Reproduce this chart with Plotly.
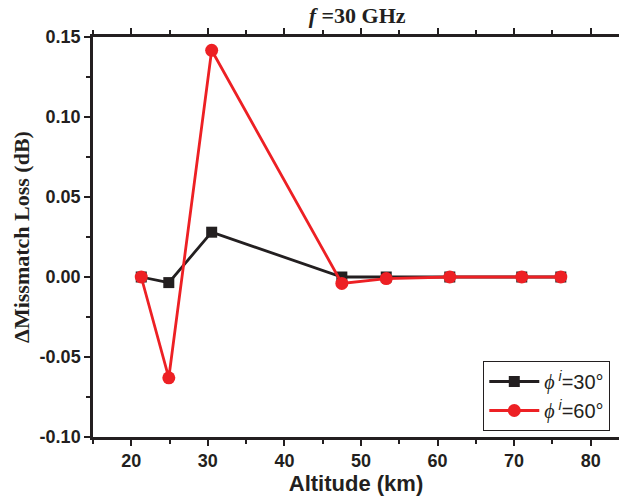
import plotly.graph_objects as go

altitude = [21.3, 24.9, 30.5, 47.5, 53.3, 61.6, 71.0, 76.1]
phi30 = [0.0, -0.0035, 0.028, 0.0, 0.0, 0.0, 0.0, 0.0]
phi60 = [0.0, -0.063, 0.1417, -0.004, -0.001, 0.0, 0.0, 0.0]
phi_sym = "<span style='font-family:Liberation Serif'><i>ϕ</i></span><sup><i> i</i></sup>"
series_names = [phi_sym + "=30°", phi_sym + "=60°"]

fig = go.Figure()
fig.add_trace(go.Scatter(x=altitude, y=phi30, mode="lines+markers", name=series_names[0],
                         line=dict(color="#231f20", width=2.8),
                         marker=dict(symbol="square", size=11, color="#231f20")))
fig.add_trace(go.Scatter(x=altitude, y=phi60, mode="lines+markers", name=series_names[1],
                         line=dict(color="#ed2024", width=2.8),
                         marker=dict(symbol="circle", size=13, color="#ed2024")))

tickfont = dict(family="Liberation Sans, Arial", size=18, color="#231f20")
fig.update_layout(
    width=619, height=499,
    margin=dict(l=93, r=0, t=37, b=62),
    plot_bgcolor="white", paper_bgcolor="white",
    title=dict(text="<b><i>f</i> =30 GHz</b>", x=0.577, xanchor="center", y=0.97, yanchor="middle",
               font=dict(family="Liberation Serif, Times New Roman", size=22, color="#231f20")),
    xaxis=dict(range=[15, 83.7], tickvals=[20, 30, 40, 50, 60, 70, 80],
               ticktext=["<b>20</b>", "<b>30</b>", "<b>40</b>", "<b>50</b>", "<b>60</b>", "<b>70</b>", "<b>80</b>"],
               ticks="outside", ticklen=6, tickwidth=2, tickcolor="#231f20",
               showline=True, linecolor="#231f20", linewidth=2.5, mirror="ticks",
               showgrid=False, zeroline=False, tickfont=tickfont, automargin=False,
               minor=dict(dtick=5, tick0=15, ticks="outside", ticklen=4, tickwidth=2, tickcolor="#231f20"),
               title=dict(text="<b>Altitude (km)</b>", standoff=6,
                          font=dict(family="Liberation Sans, Arial", size=22, color="#231f20"))),
    yaxis=dict(range=[-0.1, 0.15], tickvals=[-0.1, -0.05, 0, 0.05, 0.1, 0.15],
               ticktext=["<b>-0.10</b>", "<b>-0.05</b>", "<b>0.00</b>", "<b>0.05</b>", "<b>0.10</b>", "<b>0.15</b>"],
               ticks="outside", ticklen=6, tickwidth=2, tickcolor="#231f20",
               showline=True, linecolor="#231f20", linewidth=2.5, mirror=False,
               showgrid=False, zeroline=False, tickfont=tickfont, automargin=False,
               minor=dict(dtick=0.025, tick0=0, ticks="outside", ticklen=4, tickwidth=2, tickcolor="#231f20"),
               title=dict(text="<b>ΔMissmatch Loss (dB)</b>", standoff=4,
                          font=dict(family="Liberation Serif, Times New Roman", size=22, color="#231f20"))),
    legend=dict(x=0.742, y=0.19, xanchor="left", yanchor="top",
                bgcolor="white", bordercolor="#231f20", borderwidth=1,
                font=dict(family="Liberation Sans, Arial", size=20, color="#231f20"),
                tracegroupgap=0, itemwidth=50),
    showlegend=True,
)
fig.write_html("out.html", config={"displayModeBar": False},
               post_script="document.body.style.margin='0';document.body.style.overflow='hidden';")
